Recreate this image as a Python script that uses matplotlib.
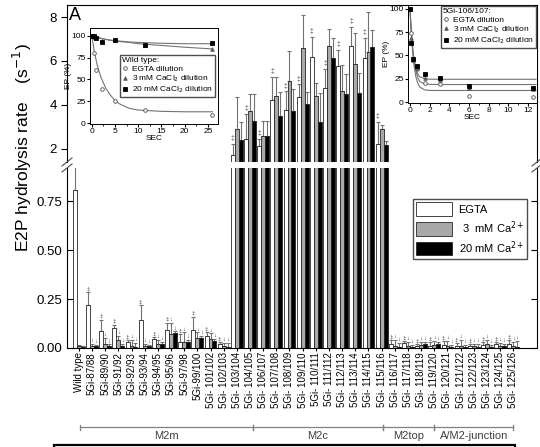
import matplotlib
matplotlib.use('Agg')
import matplotlib.pyplot as plt
import numpy as np
from matplotlib.patches import Rectangle, Patch
from matplotlib.lines import Line2D
from matplotlib.ticker import AutoMinorLocator
import matplotlib.transforms as mtransforms

plt.rcParams['font.family'] = ['Liberation Sans', 'DejaVu Sans']

# ---- data ----
labels = ['Wild type', '5Gi-87/88', '5Gi-89/90', '5Gi-91/92', '5Gi-92/93', '5Gi-93/94',
          '5Gi-94/95', '5Gi-95/96', '5Gi-97/98', '5Gi-99/100', '5Gi- 101/102',
          '5Gi- 102/103', '5Gi- 103/104', '5Gi- 104/105', '5Gi- 106/107', '5Gi- 107/108',
          '5Gi- 108/109', '5Gi- 109/110', '5Gi- 110/111', '5Gi- 111/112', '5Gi- 112/113',
          '5Gi- 113/114', '5Gi- 114/115', '5Gi- 115/116', '5Gi- 116/117', '5Gi- 117/118',
          '5Gi- 118/119', '5Gi- 119/120', '5Gi- 120/121', '5Gi- 121/122', '5Gi- 122/123',
          '5Gi- 123/124', '5Gi- 124/125', '5Gi- 125/126']

egta = [0.81, 0.22, 0.085, 0.10, 0.03, 0.145, 0.045, 0.09, 0.03, 0.09, 0.06, 0.02,
        1.74, 2.45, 2.14, 4.21, 3.76, 4.35, 6.16, 4.75, 5.79, 6.70, 6.15, 2.23,
        0.02, 0.025, 0.01, 0.01, 0.015, 0.01, 0.01, 0.015, 0.02, 0.02]
egta_err = [0.20, 0.065, 0.06, 0.02, 0.01, 0.075, 0.01, 0.04, 0.04, 0.07, 0.02, 0.01,
            0.49, 1.13, 0.31, 1.08, 0.86, 0.58, 0.95, 0.90, 0.72, 0.87, 0.90, 0.99,
            0.02, 0.01, 0.01, 0.02, 0.02, 0.015, 0.01, 0.015, 0.01, 0.02]
ca3 = [0.008, 0.012, 0.02, 0.04, 0.01, 0.01, 0.02, 0.07, 0.03, 0.05, 0.045, 0.01,
       2.90, 3.71, 2.59, 4.39, 5.11, 6.60, 4.40, 6.70, 4.62, 5.88, 6.39, 2.90,
       0.01, 0.01, 0.015, 0.015, 0.01, 0.01, 0.01, 0.02, 0.01, 0.01]
ca3_err = [0.005, 0.01, 0.03, 0.02, 0.03, 0.01, 0.02, 0.06, 0.05, 0.03, 0.03, 0.015,
           1.45, 0.77, 0.67, 0.90, 1.36, 1.49, 0.62, 0.76, 1.21, 1.40, 1.85, 0.20,
           0.03, 0.02, 0.015, 0.02, 0.025, 0.03, 0.01, 0.02, 0.015, 0.02]
ca20 = [0.005, 0.01, 0.01, 0.01, 0.005, 0.01, 0.02, 0.075, 0.03, 0.05, 0.035, 0.005,
        2.41, 3.26, 2.59, 3.49, 3.71, 4.03, 3.22, 6.15, 4.48, 4.53, 6.66, 2.19,
        0.005, 0.005, 0.02, 0.02, 0.005, 0.005, 0.005, 0.005, 0.01, 0.005]
ca20_err = [0.004, 0.006, 0.008, 0.01, 0.02, 0.005, 0.01, 0.01, 0.01, 0.01, 0.01, 0.02,
            0.81, 1.22, 0.67, 1.08, 1.00, 0.54, 1.31, 0.90, 0.95, 0.94, 0.75, 0.18,
            0.02, 0.01, 0.01, 0.01, 0.01, 0.01, 0.015, 0.01, 0.01, 0.03]

regions = ['M2m', 'M2c', 'M2top', 'A/M2-junction']
region_edges = [0.1, 13.2, 23.1, 27.0, 33.0]

# inset: wild type
wt_t = [0, 0.4, 1, 2.2, 5, 11.5, 26]
wt_egta = [100, 80, 61, 39, 25, 15, 9]
wt_ca3 = [100, 99, 98, 94, 95, 90, 85]
wt_ca20 = [100, 100, 98, 93, 95, 89, 92]
wt_fit_t = [0, 0.5, 1, 1.5, 2, 3, 4, 5, 6, 8, 10, 15, 20, 26]
wt_fit_egta = [100, 83, 70, 60, 52, 40, 32, 26, 22, 17, 15, 13.5, 13, 13]
wt_fit_ca3 = [100, 99, 98.5, 98, 97, 96, 95, 94, 93.5, 92.5, 91, 89, 87, 85]
wt_fit_ca20 = [100, 99, 98.5, 98, 97, 96, 95, 94.5, 94, 93, 92.5, 91.5, 91, 91]

# inset: 5Gi-106/107
m_t = [0, 0.15, 0.35, 0.7, 1.5, 3.0, 6.0, 12.5]
m_egta = [100, 74, 46, 35, 20, 19, 7, 5]
m_ca3 = [100, 69, 45, 37, 26, 24, 15, 14]
m_ca20 = [100, 63, 46, 39, 30, 26, 17, 15]
m_fit_t = [0, 0.1, 0.2, 0.3, 0.4, 0.6, 0.8, 1.0, 1.5, 2, 3, 5, 12.8]
m_fit_egta = [100, 80, 63, 50, 40, 27, 20, 16, 13, 12.5, 12.4, 12.4, 12.4]
m_fit_ca3 = [100, 81, 66, 54, 45, 33, 26, 22, 19.5, 19, 18.8, 18.8, 18.8]
m_fit_ca20 = [100, 82, 67, 56, 47, 36, 30, 27, 25, 24.5, 24.4, 24.4, 24.4]

W, H = 540, 447
fig = plt.figure(figsize=(W / 100, H / 100), dpi=100)


def px_box(x0, y0, x1, y1):
    return [x0 / W, 1 - y1 / H, (x1 - x0) / W, (y1 - y0) / H]


ax_up = fig.add_axes(px_box(67, 5, 537, 162))
ax_lo = fig.add_axes(px_box(67, 168, 537, 348))

x = np.arange(len(labels))
bw = 0.3
bar_specs = [(egta, egta_err, 'white', -bw), (ca3, ca3_err, '#a9a9a9', 0), (ca20, ca20_err, 'black', bw)]

for ax in (ax_up, ax_lo):
    for vals, errs, col, off in bar_specs:
        ax.bar(x + off, vals, bw, color=col, edgecolor='0.15', linewidth=0.6, zorder=2)
        ax.errorbar(x + off, vals, yerr=[np.zeros(len(vals)), errs], fmt='none',
                    ecolor='0.45', elinewidth=0.8, capsize=1.6, capthick=0.8, zorder=1)
    ax.set_xlim(-0.9, 34.8)

ax_up.set_ylim(1.4, 8.55)
ax_lo.set_ylim(0, 0.92)

# significance marks
for i in range(len(labels)):
    if i == 0:
        continue
    if egta[i] > 1.4:
        ax_up.text(x[i] - bw, egta[i] + egta_err[i] + 0.08, '‡', ha='center', va='bottom',
                   fontsize=5, color='0.3')
    else:
        for (vals, errs, col, off), s in zip(bar_specs, ['‡', '↓', '↓']):
            ax_lo.text(x[i] + off, vals[i] + errs[i] + 0.004, s, ha='center', va='bottom',
                       fontsize=4.5, color='0.3')

ax_up.spines['bottom'].set_visible(False)
ax_lo.spines['top'].set_visible(False)
ax_up.tick_params(axis='x', which='both', bottom=False, labelbottom=False)
ax_up.set_yticks([2, 4, 6, 8])
ax_up.tick_params(axis='y', direction='out', length=4, labelsize=9.5, right=False)
ax_lo.set_yticks([0, 0.25, 0.5, 0.75])
ax_lo.set_yticklabels(['0.00', '0.25', '0.50', '0.75'])
ax_lo.tick_params(axis='y', direction='out', length=4, labelsize=9.5)
ax_lo.tick_params(axis='y', which='both', right=True, direction='in')
ax_lo.tick_params(axis='y', which='major', left=True)
for t in ax_lo.yaxis.get_major_ticks():
    t.tick1line.set_markersize(4)
ax_lo.set_xticks(x)
ax_lo.set_xticklabels(labels, rotation=90, fontsize=7)
ax_lo.tick_params(axis='x', direction='out', length=2, pad=1)

# break marks
for bx in (67, 537):
    for dy in (-3, 3):
        fig.add_artist(Line2D([(bx - 5) / W, (bx + 5) / W],
                              [1 - (165 + dy + 4) / H, 1 - (165 + dy - 4) / H],
                              color='0.3', lw=0.8, transform=fig.transFigure))

ax_up.text(0.005, 0.99, 'A', transform=ax_up.transAxes, fontsize=13, va='top', ha='left')

fig.text(22 / W, 1 - 148 / H, 'E2P hydrolysis rate    (s$^{-1}$)', rotation=90,
         ha='center', va='center', fontsize=12.5)

# region brackets
trans = mtransforms.blended_transform_factory(ax_lo.transData, fig.transFigure)
yb = 1 - 427 / H
for name, a, b in zip(regions, region_edges[:-1], region_edges[1:]):
    ax_lo.add_artist(Line2D([a, b], [yb, yb], color='0.5', lw=0.9, transform=trans, clip_on=False))
    for e in (a, b):
        ax_lo.add_artist(Line2D([e, e], [yb - 2.5 / H, yb + 2.5 / H], color='0.5', lw=0.9,
                                transform=trans, clip_on=False))
    ax_lo.text((a + b) / 2, 1 - 436 / H, name, transform=trans, ha='center', va='center',
               fontsize=8, color='0.25')

fig.add_artist(Rectangle((54 / W, -0.05), (515 - 54) / W, 0.05 + (H - 445) / H, fill=False,
                         edgecolor='black', lw=1.6, transform=fig.transFigure))

# main legend
handles = [Patch(facecolor=c, edgecolor='0.15', lw=0.6) for c in ['white', '#a9a9a9', 'black']]
ax_lo.legend(handles, ['EGTA', ' 3  mM Ca$^{2+}$', '20 mM Ca$^{2+}$'],
             loc='upper left', bbox_to_anchor=(413 / W, 1 - 199 / H), bbox_transform=fig.transFigure,
             fontsize=8, handlelength=3.2, handleheight=1.5, fancybox=False, edgecolor='0.3',
             framealpha=1, borderpad=0.3, labelspacing=0.3, handletextpad=0.6, borderaxespad=0)


def style_inset(ax):
    ax.tick_params(labelsize=6, length=2, pad=1, direction='out')
    ax.tick_params(which='minor', length=1.2)
    ax.xaxis.set_minor_locator(AutoMinorLocator(2))
    ax.set_xlabel('SEC', fontsize=6, labelpad=0)
    ax.set_ylabel('EP (%)', fontsize=6, labelpad=0)
    ax.set_yticks([0, 25, 50, 75, 100])
    for s in ax.spines.values():
        s.set_linewidth(0.7)


mk = dict(markersize=2.6, linestyle='none', markeredgewidth=0.6)

in1 = fig.add_axes(px_box(90, 28, 218, 124))
in1.plot(wt_fit_t, wt_fit_egta, color='0.45', lw=0.8)
in1.plot(wt_fit_t, wt_fit_ca3, color='0.45', lw=0.8)
in1.plot(wt_fit_t, wt_fit_ca20, color='0.45', lw=0.8)
h1, = in1.plot(wt_t, wt_egta, marker='o', mfc='white', mec='0.3', **mk)
h2, = in1.plot(wt_t, wt_ca3, marker='^', mfc='0.35', mec='0.35', **mk)
h3, = in1.plot(wt_t, wt_ca20, marker='s', mfc='black', mec='black', **mk)
in1.set_xlim(-0.4, 27.2)
in1.set_ylim(-1, 109)
in1.set_xticks([0, 5, 10, 15, 20, 25])
style_inset(in1)
in1.legend([h1, h2, h3], ['EGTA dilution', '3 mM CaCl$_2$ dilution', '20 mM CaCl$_2$ dilution'],
           title='Wild type:', alignment='left', title_fontsize=6, fontsize=6,
           loc='upper left', bbox_to_anchor=(0.235, 0.72), fancybox=False, edgecolor='0.3',
           framealpha=1, borderpad=0.25, labelspacing=0.1, handlelength=0.8,
           handletextpad=0.4, borderaxespad=0)

in2 = fig.add_axes(px_box(408, 5, 537, 103))
in2.plot(m_fit_t, m_fit_egta, color='0.45', lw=0.8)
in2.plot(m_fit_t, m_fit_ca3, color='0.45', lw=0.8)
in2.plot(m_fit_t, m_fit_ca20, color='0.45', lw=0.8)
g1, = in2.plot(m_t, m_egta, marker='o', mfc='white', mec='0.3', **mk)
g2, = in2.plot(m_t, m_ca3, marker='^', mfc='0.35', mec='0.35', **mk)
g3, = in2.plot(m_t, m_ca20, marker='s', mfc='black', mec='black', **mk)
in2.set_xlim(-0.2, 12.9)
in2.set_ylim(-1, 104)
in2.set_xticks([0, 2, 4, 6, 8, 10, 12])
style_inset(in2)
in2.legend([g1, g2, g3], ['EGTA dilution', '3 mM CaCl$_2$ dilution', '20 mM CaCl$_2$ dilution'],
           title='5Gi-106/107:', alignment='left', title_fontsize=6, fontsize=6,
           loc='upper right', bbox_to_anchor=(1.0, 1.0), fancybox=False, edgecolor='0.3',
           framealpha=1, borderpad=0.25, labelspacing=0.1, handlelength=0.8,
           handletextpad=0.4, borderaxespad=0.1)

fig.savefig('out.png', dpi=100)
